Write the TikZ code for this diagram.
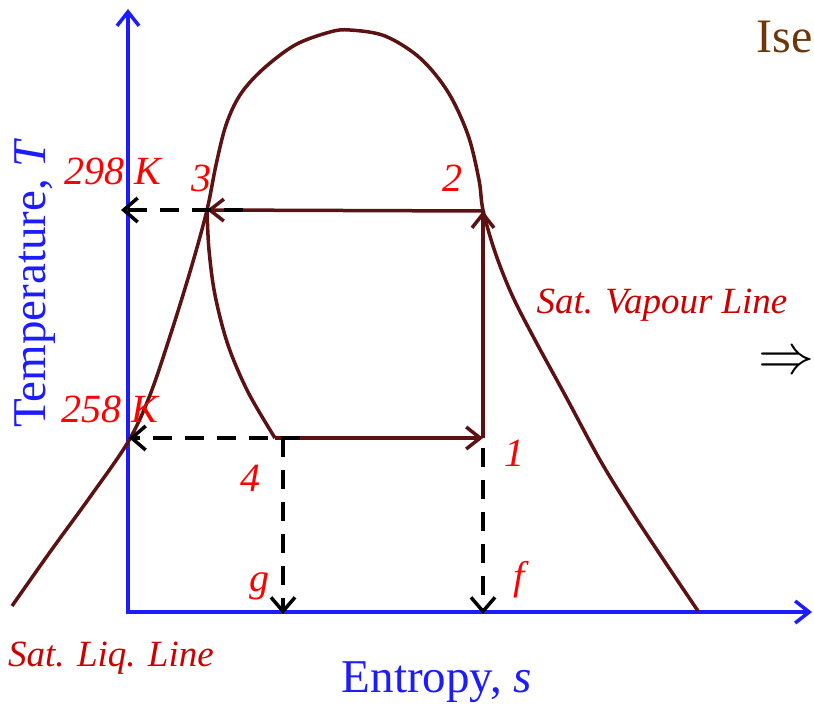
\documentclass[tikz,border=0pt]{standalone}
\usepackage{fontspec}
\setmainfont{Liberation Serif}
\usetikzlibrary{arrows.meta}
\definecolor{domemaroon}{RGB}{92,18,18}
\definecolor{axisblue}{RGB}{28,28,255}
\definecolor{pointred}{RGB}{255,0,0}
\definecolor{linered}{RGB}{204,0,0}
\definecolor{titlebrown}{RGB}{110,55,10}
\begin{document}
\begin{tikzpicture}[x=1pt, y=-1pt]
    % Styles
    \tikzset{
        axis line/.style={draw=axisblue, line width=4pt, line join=miter},
        cycle line/.style={draw=domemaroon, line width=3.5pt},
        proj line/.style={draw=black, line width=4pt, dash pattern=on 19pt off 13pt,
            -{Straight Barb[length=14pt, width=24pt, line width=3.5pt]}},
        cycle arrow/.style={-{Straight Barb[length=14pt, width=22pt, line width=3.5pt]}},
        point label/.style={text=pointred, inner sep=0pt, font=\fontsize{40}{40}\selectfont\itshape},
        line label/.style={text=linered, inner sep=0pt, font=\fontsize{37}{37}\selectfont\itshape},
        axis label/.style={text=axisblue, inner sep=0pt, font=\fontsize{47}{47}\selectfont}
    }
    \clip (0,0) rectangle (814,705);

    % Cycle points
    \coordinate (p1) at (483,438);
    \coordinate (p2) at (483,211);
    \coordinate (p3) at (207,210);
    \coordinate (p4) at (275,438);
    \coordinate (origin) at (128,612);
    \coordinate (ytop) at (128,9);
    \coordinate (xend) at (812,612);
    \coordinate (f) at (483,614);
    \coordinate (g) at (283,614);
    \coordinate (t298) at (121,210);
    \coordinate (t258) at (129,438);
    \coordinate (d3) at (243,210);
    \coordinate (d4) at (300,438);
    \coordinate (dg) at (283,438);
    \coordinate (df) at (483,448);

    % Axes
    \draw[axis line, {Straight Barb[length=14pt, width=22pt, line width=3.5pt]}-{Straight Barb[length=14pt, width=22pt, line width=3.5pt]}]
        (ytop) -- (origin) -- (xend);

    % Saturation dome
    \draw[cycle line] plot[smooth, tension=0.55] coordinates {
        (12,606) (50,552) (90,497) (128,442) (150,395) (172,330) (192,265) (207,210)
        (216,165) (226,125) (240,95) (262,70) (295,45) (330,32) (350,30) (385,36)
        (420,58) (448,92) (468,135) (479,180) (483,210) (495,252) (512,295) (535,340)
        (565,395) (600,460) (632,512) (665,562) (698,611)};

    % Throttling 3 -> 4
    \draw[cycle line] plot[smooth, tension=0.55] coordinates {
        (207,210) (209,250) (215,295) (228,345) (248,392) (275,438)};

    % Cycle lines
    \draw[cycle line, cycle arrow] (p4) -- (p1);
    \draw[cycle line, cycle arrow] (p1) -- (p2);
    \draw[cycle line, cycle arrow] (p2) -- (p3);

    % Projections
    \draw[proj line] (d3) -- (t298);
    \draw[proj line] (d4) -- (t258);
    \draw[proj line] (dg) -- (g);
    \draw[proj line] (df) -- (f);

    % Labels
    \node[point label] (l298) at (113,171) {298 K};
    \node[point label] (l258) at (110,409) {258 K};
    \node[point label] (l3) at (201,178) {3};
    \node[point label] (l2) at (452,178) {2};
    \node[point label] (l1) at (514,453) {1};
    \node[point label] (l4) at (250,478) {4};
    \node[point label] (lg) at (259,586) {g};
    \node[point label] (lf) at (519,580) {f};
    \node[line label] (vap) at (662,305) {Sat. Vapour Line};
    \node[line label] (liq) at (111,658) {Sat. Liq. Line};
    \node[axis label] (xlab) at (437,682) {Entropy, \textit{s}};
    \node[axis label, rotate=90] (ylab) at (35,283) {Temperature, \textit{T}};

    % Text at the right edge
    \node[text=titlebrown, inner sep=0pt, anchor=base east, font=\fontsize{48}{48}\selectfont] (ise) at (813,52) {Ise};
    \node[inner sep=0pt, scale=2.25, font=\fontsize{24}{24}\selectfont] (imp) at (786,363) {$\Rightarrow$};
\end{tikzpicture}
\end{document}
